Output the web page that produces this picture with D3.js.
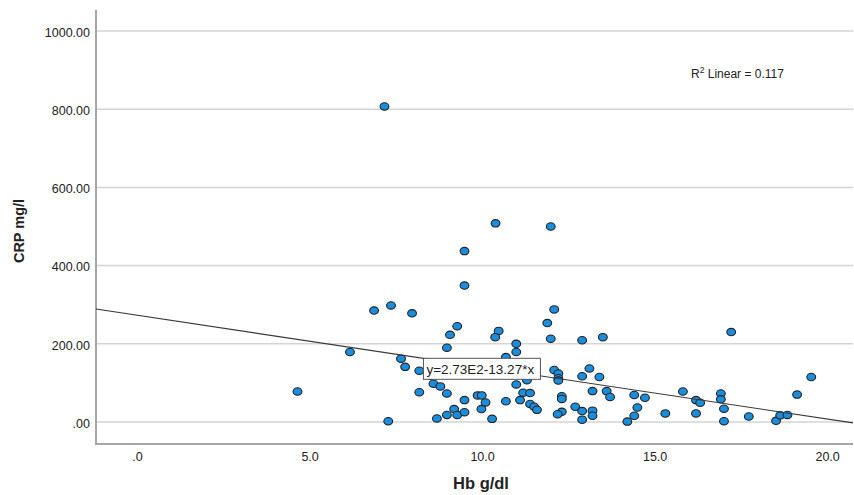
<!DOCTYPE html>
<html>
<head>
<meta charset="utf-8">
<script src="https://cdn.jsdelivr.net/npm/d3@7"></script>
<style>
  body { margin: 0; background: #fff; }
  text { font-family: "Liberation Sans", Arial, sans-serif; fill: #222; }
</style>
</head>
<body>
<div id="chart"></div>
<script>
// values
const hb = [4.65, 6.17, 6.87, 7.36, 7.28, 7.17, 7.65, 10.39, 11.99, 9.49,
  9.49, 7.97, 12.09, 11.89, 9.28, 10.48, 9.07, 10.38, 11.99, 12.9,
  10.99, 8.98, 10.99, 10.69, 7.77, 8.18, 8.5, 8.59, 8.79, 8.18,
  8.98, 9.49, 9.87, 9.99, 10.1, 9.98, 9.19, 8.98, 9.28, 9.49,
  8.69, 10.29, 10.69, 10.99, 11.1, 11.19, 11.39, 11.3, 11.39, 11.51,
  11.59, 12.09, 12.21, 12.21, 12.31, 12.31, 12.31, 12.19, 12.7, 12.9,
  12.9, 12.9, 13.5, 17.22, 13.11, 13.4, 19.54, 13.2, 13.61, 13.71,
  14.41, 14.72, 15.82, 16.92, 16.92, 16.2, 16.32, 19.13, 13.2, 13.2,
  14.5, 14.41, 14.21, 15.31, 16.2, 17.01, 17.01, 17.73, 18.52, 18.64,
  18.85, 12.21];
const crp = [78, 179, 285, 298, 2, 807, 162, 508, 500, 437,
  349, 278, 288, 253, 245, 233, 223, 217, 213, 209,
  200, 190, 179, 166, 141, 131, 118, 98, 91, 76,
  73, 56, 68, 68, 50, 33, 33, 18, 18, 25,
  9, 8, 53, 96, 56, 75, 74, 107, 46, 39,
  31, 133, 124, 112, 66, 59, 26, 20, 39, 117,
  28, 6, 217, 230, 137, 115, 115, 79, 79, 64,
  69, 62, 78, 73, 58, 56, 49, 70, 29, 16,
  37, 16, 1, 22, 22, 34, 2, 14, 3, 17,
  18, 106];

const yTicks = [0, 200, 400, 600, 800, 1000];
const yTickLabels = [".00", "200.00", "400.00", "600.00", "800.00", "1000.00"];
const xTicks = [0, 5, 10, 15, 20];
const xTickLabels = [".0", "5.0", "10.0", "15.0", "20.0"];

// fit line: y = 273 - 13.27x
const fitIntercept = 273;
const fitSlope = -13.27;
const rSquared = "0.117";
const fitLabel = "y=2.73E2-13.27*x";

//size
const W = 854, H = 495;
const margin = { top: 10, right: 1, bottom: 51, left: 96 };

const svg = d3.select("#chart").append("svg")
  .attr("width", W).attr("height", H);

const x = d3.scaleLinear().domain([-1.19, 20.75]).range([margin.left, W - margin.right]);
const y = d3.scaleLinear().domain([-56.3, 1053.7]).range([H - margin.bottom, margin.top]);

//gridlines
svg.append("g").selectAll("line")
  .data(yTicks)
  .join("line")
  .attr("x1", margin.left).attr("x2", W - margin.right)
  .attr("y1", d => y(d)).attr("y2", d => y(d))
  .attr("stroke", "#d4d4d4").attr("stroke-width", 1.5);

//axes
const yAxis = svg.append("g")
  .attr("transform", `translate(${margin.left},0)`)
  .call(d3.axisLeft(y).tickValues(yTicks).tickSize(0).tickPadding(6)
    .tickFormat((d, i) => yTickLabels[i]));
yAxis.select(".domain").remove();
yAxis.selectAll("text").attr("dy", "0.42em");

const xAxis = svg.append("g")
  .attr("transform", `translate(0,${H - margin.bottom})`)
  .call(d3.axisBottom(x).tickValues(xTicks).tickSize(0).tickPadding(8)
    .tickFormat((d, i) => xTickLabels[i]));
xAxis.select(".domain").remove();

svg.selectAll(".tick text")
  .style("font-size", "12.5px")
  .style("font-family", "'Liberation Sans', Arial, sans-serif")
  .attr("fill", "#222");

//axis lines
svg.append("line")
  .attr("x1", margin.left).attr("x2", margin.left)
  .attr("y1", margin.top).attr("y2", H - margin.bottom)
  .attr("stroke", "#a6a6a6").attr("stroke-width", 2);
svg.append("line")
  .attr("x1", margin.left - 1).attr("x2", W - margin.right)
  .attr("y1", H - margin.bottom).attr("y2", H - margin.bottom)
  .attr("stroke", "#a6a6a6").attr("stroke-width", 2);

//points
const pts = hb.map((v, i) => ({ hb: v, crp: crp[i] }));
svg.append("g").selectAll("ellipse")
  .data(pts)
  .join("ellipse")
  .attr("cx", d => x(d.hb))
  .attr("cy", d => y(d.crp))
  .attr("rx", 4.4).attr("ry", 3.7)
  .attr("fill", "#1b8ddd")
  .attr("stroke", "#222")
  .attr("stroke-width", 1.1);

//fit line
const x0 = x.domain()[0], x1 = x.domain()[1];
svg.append("line")
  .attr("x1", x(x0)).attr("y1", y(fitIntercept + fitSlope * x0))
  .attr("x2", x(x1)).attr("y2", y(fitIntercept + fitSlope * x1))
  .attr("stroke", "#3a3a3a").attr("stroke-width", 1.1);

//equation label, top left corner sits on the line
const lx = 8.3;
const lbl = svg.append("g")
  .attr("transform", `translate(${x(lx)},${y(fitIntercept + fitSlope * lx)})`);
lbl.append("rect")
  .attr("width", 117).attr("height", 21)
  .attr("fill", "#fff").attr("stroke", "#555").attr("stroke-width", 1);
lbl.append("text")
  .attr("x", 3).attr("y", 15.5)
  .style("font-size", "13.5px")
  .text(fitLabel);

//R squared
const r2 = svg.append("text")
  .attr("x", 691).attr("y", 78)
  .style("font-size", "12px");
r2.append("tspan").text("R");
r2.append("tspan").attr("dy", -5).style("font-size", "8.5px").text("2");
r2.append("tspan").attr("dy", 5).text(" Linear = " + rSquared);

//axis titles
svg.append("text")
  .attr("x", 481).attr("y", 489)
  .attr("text-anchor", "middle")
  .style("font-size", "16.5px").style("font-weight", "bold")
  .text("Hb g/dl");

svg.append("text")
  .attr("transform", "translate(24,231) rotate(-90)")
  .attr("text-anchor", "middle")
  .style("font-size", "14.5px").style("font-weight", "bold")
  .text("CRP mg/l");
</script>
</body>
</html>
